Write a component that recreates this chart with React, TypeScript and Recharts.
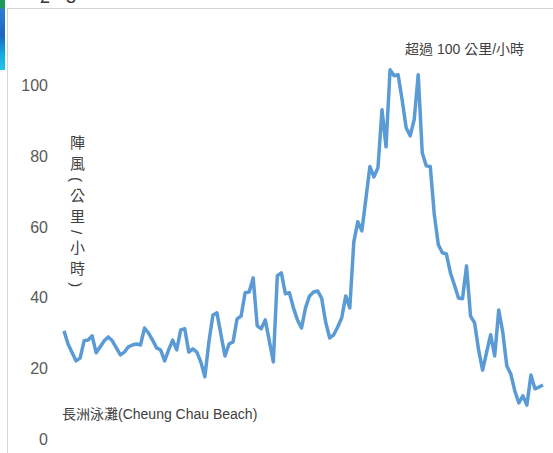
import React from 'react';
import { LineChart, Line, XAxis, YAxis } from 'recharts';

// gust readings, Cheung Chau Beach (km/h)
const gusts: number[] = [
  30.6, 26.9, 24.5, 22.1, 22.9, 27.8, 28.0, 29.2, 24.4, 26.1,
  27.8, 28.9, 27.8, 25.8, 23.8, 24.6, 26.1, 26.6, 26.9, 26.6,
  31.4, 30.0, 28.0, 25.8, 25.2, 22.1, 25.2, 28.0, 25.2, 30.9,
  31.2, 24.6, 25.5, 24.6, 21.8, 17.6, 27.5, 35.1, 35.7, 29.5,
  23.5, 26.9, 27.5, 34.0, 34.8, 41.4, 41.6, 45.6, 32.0, 31.2,
  33.7, 27.8, 21.8, 46.2, 47.0, 41.1, 41.4, 37.1, 33.7, 31.4,
  37.1, 40.5, 41.6, 41.9, 39.9, 33.1, 28.6, 29.5, 31.7, 34.3,
  40.5, 37.1, 55.8, 61.5, 58.9, 68.0, 77.1, 74.2, 76.8, 93.2,
  82.7, 104.5, 102.8, 103.1, 96.0, 88.1, 85.8, 90.4, 103.1, 81.0,
  77.3, 77.1, 63.5, 55.0, 52.7, 52.4, 47.0, 43.6, 39.9, 39.7,
  49.0, 34.8, 32.9, 25.2, 19.5, 24.6, 29.5, 23.5, 36.5, 30.3,
  20.7, 18.4, 13.6, 10.2, 12.2, 9.6, 18.1, 14.2, 14.7, 15.3,
];

const yTicks = [0, 20, 40, 60, 80, 100];

const stationLabel = '長洲泳灘(Cheung Chau Beach)';
const noteLabel = '超過 100 公里/小時';
const axisTitle = '陣風(公里/小時)';

const data = gusts.map((v, i) => ({ idx: i, gust: v }));

const font = '"Liberation Sans", "Noto Sans CJK TC", sans-serif';

export default function App() {
  return (
    <div
      style={{
        position: 'absolute',
        left: 0,
        top: 0,
        width: 553,
        height: 453,
        overflow: 'hidden',
        background: '#fff',
        fontFamily: font,
      }}
    >
      {/* frame of the cropped chart */}
      <div
        style={{
          position: 'absolute',
          left: 7,
          top: 8,
          width: 560,
          height: 460,
          borderTop: '1px solid #d4d4d4',
          borderLeft: '1px solid #d4d4d4',
        }}
      />
      {/* leftover bits from the crop */}
      <div
        style={{
          position: 'absolute',
          left: 0,
          top: 0,
          width: 5,
          height: 70,
          background: 'linear-gradient(#1f9a5a 0px, #1f9a5a 8px, #2b7fd6 9px, #1e66c0 35px, #11aee0 55px, #25c4ea 70px)',
        }}
      />
      <div style={{ position: 'absolute', left: 40, top: 0, height: 7, overflow: 'hidden' }}>
        <div style={{ marginTop: -13, fontSize: 18, lineHeight: '20px', color: '#333' }}>2 - 3</div>
      </div>

      <LineChart
        width={553}
        height={453}
        data={data}
        margin={{ top: 15, right: 10, bottom: 14, left: 0 }}
        style={{ position: 'absolute', left: 0, top: 0 }}
      >
        <XAxis dataKey="idx" hide />
        <YAxis
          domain={[0, 120]}
          ticks={yTicks}
          width={64}
          axisLine={false}
          tickLine={false}
          tickMargin={10}
          tick={{ fill: '#595959', fontSize: 16, fontFamily: font }}
        />
        <Line
          type="linear"
          dataKey="gust"
          stroke="#5b9bd5"
          strokeWidth={3.5}
          strokeLinejoin="round"
          dot={false}
          isAnimationActive={false}
        />
      </LineChart>

      <div
        style={{
          position: 'absolute',
          left: 405,
          top: 38,
          fontSize: 14,
          color: '#404040',
          whiteSpace: 'nowrap',
        }}
      >
        {noteLabel}
      </div>
      <div
        style={{
          position: 'absolute',
          left: 62,
          top: 403,
          fontSize: 14,
          color: '#404040',
          whiteSpace: 'nowrap',
        }}
      >
        {stationLabel}
      </div>
      <div
        style={{
          position: 'absolute',
          left: 66,
          top: 135,
          fontSize: 15,
          color: '#404040',
          writingMode: 'vertical-rl',
          letterSpacing: 6,
          whiteSpace: 'nowrap',
        }}
      >
        {axisTitle}
      </div>
    </div>
  );
}
